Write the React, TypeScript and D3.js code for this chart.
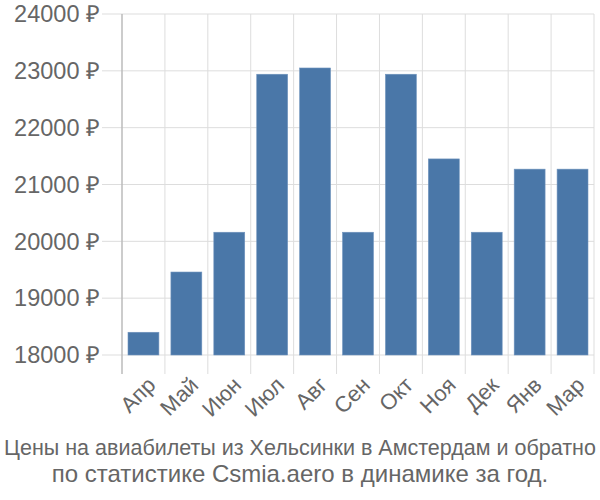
import React from "react";
import * as d3 from "d3";

const months = ["Апр", "Май", "Июн", "Июл", "Авг", "Сен", "Окт", "Ноя", "Дек", "Янв", "Мар"];
const prices = [18400, 19460, 20160, 22940, 23050, 20160, 22940, 21450, 20160, 21270, 21270];
const yTicks = [18000, 19000, 20000, 21000, 22000, 23000, 24000];
const titleLines = [
  "Цены на авиабилеты из Хельсинки в Амстердам и обратно",
  "по статистике Csmia.aero в динамике за год.",
];

const W = 600;
const H = 500;
const left = 122;
const right = 594;
const top = 14;
const bottom = 355;
const font = "'Liberation Sans', Arial, sans-serif";

export default function App() {
  const x = d3.scaleBand<string>().domain(months).range([left, right]).paddingInner(0.28).paddingOuter(0.14);
  const y = d3.scaleLinear().domain([18000, 24000]).range([bottom, top]);
  const boundaries = d3.range(months.length + 1).map((i) => left + i * ((right - left) / months.length));

  return (
    <svg width={W} height={H} style={{ position: "absolute", left: 0, top: 0 }}>
      <rect width={W} height={H} fill="#fff" />
      {yTicks.map((t) => (
        <g key={t}>
          <line x1={102} x2={right} y1={y(t)} y2={y(t)} stroke="#dddddd" strokeWidth={1} />
          <text x={100} y={y(t)} dy="0.35em" textAnchor="end" fontFamily={font} fontSize={23.5} fill="#666">
            {t} ₽
          </text>
        </g>
      ))}
      {boundaries.map((b, i) => (
        <line key={i} x1={b} x2={b} y1={top} y2={374} stroke="#dddddd" strokeWidth={1} />
      ))}
      {months.map((m, i) => (
        <rect
          key={m}
          x={x(m)}
          y={y(prices[i])}
          width={x.bandwidth()}
          height={bottom - y(prices[i])}
          fill="#4a77a8"
          stroke="#6f93bd"
          strokeWidth={0.6}
        />
      ))}
      <line x1={left} x2={left} y1={top} y2={374} stroke="#aaaaaa" strokeWidth={1} />
      {months.map((m) => {
        const cx = (x(m) as number) + x.bandwidth() / 2 + 8;
        const cy = 381;
        return (
          <text
            key={m}
            x={cx}
            y={cy}
            transform={`rotate(-45 ${cx} ${cy})`}
            textAnchor="end"
            dy="0.35em"
            fontFamily={font}
            fontSize={22}
            fill="#666"
          >
            {m}
          </text>
        );
      })}
      {titleLines.map((l, i) => (
        <text
          key={i}
          x={300}
          y={455 + i * 27}
          textAnchor="middle"
          fontFamily={font}
          fontSize={i === 0 ? 21.5 : 24}
          fill="#666"
        >
          {l}
        </text>
      ))}
    </svg>
  );
}
